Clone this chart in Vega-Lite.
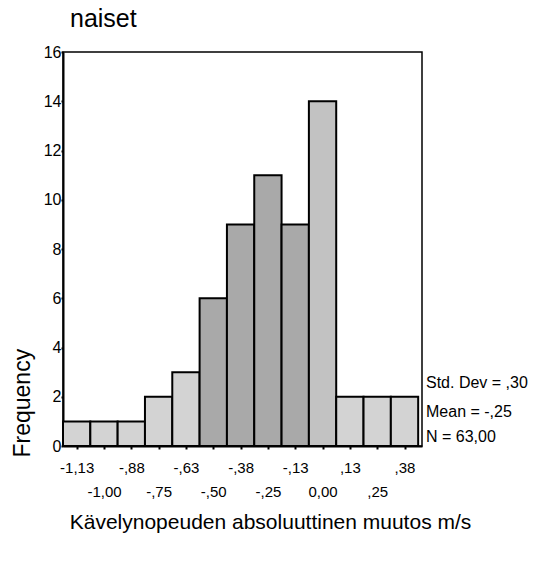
{
  "$schema": "https://vega.github.io/schema/vega-lite/v6.json",
  "autosize": "none",
  "width": 359,
  "height": 394,
  "padding": {"left": 63, "top": 52, "right": 117, "bottom": 117},
  "background": "white",
  "config": {
    "font": "Liberation Sans",
    "view": {"stroke": "black", "strokeWidth": 1.5},
    "axis": {"grid": false, "domainColor": "black", "domainWidth": 2, "tickColor": "black", "tickWidth": 2, "labelColor": "black", "titleColor": "black", "titleFontWeight": "normal"}
  },
  "title": {"text": "naiset", "anchor": "start", "frame": "group", "fontSize": 25, "fontWeight": "normal", "color": "black", "offset": 12, "dx": 7},
  "resolve": {"axis": {"x": "independent"}},
  "layer": [
    {
      "data": {"values": [
        {"center": -1.125, "lo": -1.1875, "hi": -1.0625, "count": 1},
        {"center": -1.0, "lo": -1.0625, "hi": -0.9375, "count": 1},
        {"center": -0.875, "lo": -0.9375, "hi": -0.8125, "count": 1},
        {"center": -0.75, "lo": -0.8125, "hi": -0.6875, "count": 2},
        {"center": -0.625, "lo": -0.6875, "hi": -0.5625, "count": 3},
        {"center": -0.5, "lo": -0.5625, "hi": -0.4375, "count": 6},
        {"center": -0.375, "lo": -0.4375, "hi": -0.3125, "count": 9},
        {"center": -0.25, "lo": -0.3125, "hi": -0.1875, "count": 11},
        {"center": -0.125, "lo": -0.1875, "hi": -0.0625, "count": 9},
        {"center": 0.0, "lo": -0.0625, "hi": 0.0625, "count": 14},
        {"center": 0.125, "lo": 0.0625, "hi": 0.1875, "count": 2},
        {"center": 0.25, "lo": 0.1875, "hi": 0.3125, "count": 2},
        {"center": 0.375, "lo": 0.3125, "hi": 0.4375, "count": 2}
      ]},
      "mark": {"type": "bar", "stroke": "black", "strokeWidth": 2},
      "encoding": {
        "x": {
          "field": "lo", "type": "quantitative",
          "scale": {"domain": [-1.1875, 0.455], "nice": false, "zero": false},
          "axis": {
            "orient": "bottom",
            "values": [-1.125, -0.875, -0.625, -0.375, -0.125, 0.125, 0.375],
            "labelExpr": "(datum.value < 0 ? '-' : '') + replace(replace(format(abs(datum.value), '.2f'), (abs(datum.value) < 1 && datum.value != 0) ? '0.' : '@@', '.'), '.', ',')",
            "labelFontSize": 15,
            "labelBaseline": "top",
            "labelPadding": 11,
            "labelOverlap": false,
            "labelFlush": false,
            "labelBound": false,
            "tickSize": 3,
            "title": "Kävelynopeuden absoluuttinen muutos m/s",
            "titleFontSize": 21,
            "titleX": 207,
            "titleY": 82,
            "titleBaseline": "alphabetic"
          }
        },
        "x2": {"field": "hi"},
        "y": {
          "field": "count", "type": "quantitative",
          "scale": {"domain": [0, 16], "nice": false},
          "axis": {
            "values": [0, 2, 4, 6, 8, 10, 12, 14, 16],
            "labelFontSize": 16,
            "labelPadding": 0,
            "tickSize": 2,
            "title": "Frequency",
            "titleFontSize": 23,
            "titleAngle": -90,
            "titleAlign": "left",
            "titleBaseline": "middle",
            "titleX": -41,
            "titleY": 405
          }
        },
        "y2": {"datum": 0},
        "color": {
          "condition": [
            {"test": "datum.count >= 6 && datum.count < 14", "value": "#a9a9a9"},
            {"test": "datum.count == 14", "value": "#c2c2c2"}
          ],
          "value": "#d3d3d3"
        }
      }
    },
    {
      "data": {"values": [
        {"label": "Std. Dev = ,30", "ypos": 2.57},
        {"label": "Mean = -,25", "ypos": 1.39},
        {"label": "N = 63,00", "ypos": 0.37}
      ]},
      "mark": {"type": "text", "align": "left", "baseline": "middle", "fontSize": 16, "dx": 4, "color": "black", "clip": false},
      "encoding": {
        "x": {
          "datum": 0.455, "type": "quantitative",
          "axis": {
            "orient": "bottom",
            "values": [-1.0, -0.75, -0.5, -0.25, 0, 0.25],
            "labelExpr": "(datum.value < 0 ? '-' : '') + replace(replace(format(abs(datum.value), '.2f'), (abs(datum.value) < 1 && datum.value != 0) ? '0.' : '@@', '.'), '.', ',')",
            "labelFontSize": 15,
            "labelBaseline": "top",
            "labelPadding": 35,
            "labelOverlap": false,
            "labelFlush": false,
            "labelBound": false,
            "domain": false,
            "tickSize": 3,
            "title": null
          }
        },
        "y": {"field": "ypos", "type": "quantitative"},
        "text": {"field": "label"}
      }
    }
  ]
}
